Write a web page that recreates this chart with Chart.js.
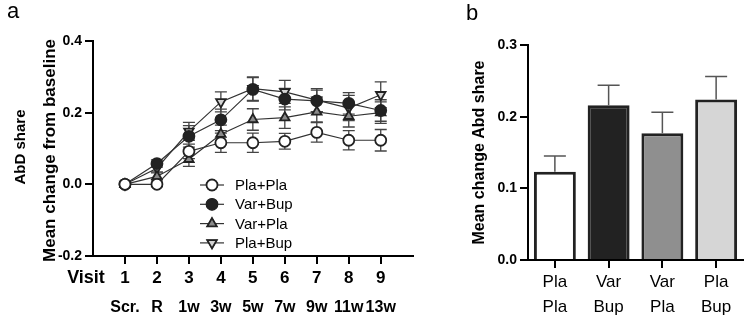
<!DOCTYPE html>
<html>
<head>
<meta charset="utf-8">
<script src="https://cdn.jsdelivr.net/npm/chart.js@4/dist/chart.umd.min.js"></script>
<style>
  body { margin: 0; background: #fff; }
  #wrap { position: relative; width: 747px; height: 318px; }
  #boxA { position: absolute; left: 0; top: 0; width: 420px; height: 318px; }
  #boxB { position: absolute; left: 420px; top: 0; width: 327px; height: 318px; }
</style>
</head>
<body>
<div id="wrap">
  <div id="boxA"><canvas id="lineChart"></canvas></div>
  <div id="boxB"><canvas id="barChart"></canvas></div>
</div>
<script>
// panel a: mean change from baseline per visit
const visits = [1, 2, 3, 4, 5, 6, 7, 8, 9];
const visitLabels = ['Scr.', 'R', '1w', '3w', '5w', '7w', '9w', '11w', '13w'];

const plaPla    = [0, 0,     0.092, 0.116, 0.116, 0.120, 0.145, 0.123, 0.123];
const plaPlaErr = [0, 0.006, 0.020, 0.027, 0.027, 0.022, 0.027, 0.027, 0.030];
const varBup    = [0, 0.058, 0.134, 0.180, 0.265, 0.238, 0.233, 0.226, 0.206];
const varBupErr = [0, 0.010, 0.030, 0.030, 0.033, 0.030, 0.030, 0.030, 0.030];
const varPla    = [0, 0.022, 0.070, 0.140, 0.181, 0.186, 0.202, 0.190, 0.200];
const varPlaErr = [0, 0.010, 0.020, 0.025, 0.030, 0.030, 0.028, 0.030, 0.030];
const plaBup    = [0, 0.045, 0.148, 0.230, 0.267, 0.258, 0.235, 0.213, 0.250];
const plaBupErr = [0, 0.010, 0.025, 0.028, 0.033, 0.032, 0.032, 0.035, 0.036];

// panel b: mean change Abd share
const groups = [['Pla', 'Pla'], ['Var', 'Bup'], ['Var', 'Pla'], ['Pla', 'Bup']];
const meanChange = [0.123, 0.216, 0.177, 0.224];
const meanErr = [0.022, 0.028, 0.029, 0.032];

const FONT = "'Liberation Sans', Arial, Helvetica, sans-serif";
Chart.defaults.font.family = FONT;
Chart.defaults.color = '#000';
Chart.defaults.animation = false;

function toPoints(vals) {
  return vals.map((v, i) => ({x: visits[i], y: v}));
}

// vertical error bars drawn under the markers
const lineErrorBars = {
  id: 'lineErrorBars',
  beforeDatasetsDraw(chart) {
    const ctx = chart.ctx;
    const xs = chart.scales.x, ys = chart.scales.y;
    ctx.save();
    ctx.strokeStyle = '#444';
    ctx.lineWidth = 1.3;
    chart.data.datasets.forEach(ds => {
      ds.data.forEach((p, i) => {
        const e = ds.errors[i];
        if (!e) return;
        const px = xs.getPixelForValue(p.x);
        const top = ys.getPixelForValue(p.y + e);
        const bot = ys.getPixelForValue(p.y - e);
        ctx.beginPath();
        ctx.moveTo(px, top); ctx.lineTo(px, bot);
        ctx.moveTo(px - 6, top); ctx.lineTo(px + 6, top);
        ctx.moveTo(px - 6, bot); ctx.lineTo(px + 6, bot);
        ctx.stroke();
      });
    });
    ctx.restore();
  }
};

// texts and legend for panel a
const panelAText = {
  id: 'panelAText',
  afterDraw(chart) {
    const ctx = chart.ctx;
    const area = chart.chartArea;
    ctx.save();
    ctx.fillStyle = '#000';
    ctx.textBaseline = 'middle';
    ctx.textAlign = 'left';
    ctx.font = '22px ' + FONT;
    ctx.fillText('a', 7, 12);

    ctx.textAlign = 'center';
    ctx.font = 'bold 18px ' + FONT;
    ctx.fillText('Visit', 86, area.bottom + 22);

    ctx.save();
    ctx.translate(50, (area.top + area.bottom) / 2 + 2);
    ctx.rotate(-Math.PI / 2);
    ctx.font = 'bold 17px ' + FONT;
    ctx.fillText('Mean change from baseline', 0, 0);
    ctx.restore();

    ctx.save();
    ctx.translate(21, 147);
    ctx.rotate(-Math.PI / 2);
    ctx.font = 'bold 15px ' + FONT;
    ctx.fillText('AbD share', 0, 0);
    ctx.restore();

    // legend inside the plot
    const lx = 212, ly = 185, gap = 19.3;
    chart.data.datasets.forEach((ds, i) => {
      const y = ly + i * gap;
      ctx.strokeStyle = '#333';
      ctx.lineWidth = 1.2;
      ctx.beginPath();
      ctx.moveTo(lx - 12, y); ctx.lineTo(lx + 12, y);
      ctx.stroke();
      Chart.helpers.drawPoint(ctx, {
        pointStyle: ds.pointStyle,
        radius: ds.pointRadius,
        rotation: ds.rotation || 0,
        borderWidth: ds.pointBorderWidth
      }, lx, y);
      ctx.fillStyle = ds.pointBackgroundColor;
      ctx.strokeStyle = ds.pointBorderColor;
      ctx.lineWidth = ds.pointBorderWidth;
      ctx.fill();
      ctx.stroke();
      ctx.fillStyle = '#000';
      ctx.textAlign = 'left';
      ctx.font = '15px ' + FONT;
      ctx.fillText(ds.label, 235, y + 1);
    });
    ctx.restore();
  }
};

function lineSet(label, vals, errs, style, fill, rot) {
  return {
    label: label,
    data: toPoints(vals),
    errors: errs,
    borderColor: '#333',
    borderWidth: 1.2,
    pointStyle: style,
    rotation: rot,
    pointRotation: rot,
    pointRadius: 5.5,
    pointBackgroundColor: fill,
    pointBorderColor: '#222',
    pointBorderWidth: 1.8,
    tension: 0
  };
}

const visitTicks = s => { s.ticks = visits.map(v => ({value: v})); };

new Chart(document.getElementById('lineChart'), {
  type: 'line',
  data: {
    datasets: [
      lineSet('Pla+Pla', plaPla, plaPlaErr, 'circle', '#ffffff', 0),
      lineSet('Var+Bup', varBup, varBupErr, 'circle', '#222222', 0),
      lineSet('Var+Pla', varPla, varPlaErr, 'triangle', '#8a8a8a', 0),
      lineSet('Pla+Bup', plaBup, plaBupErr, 'triangle', '#d4d4d4', 180)
    ]
  },
  options: {
    responsive: true,
    maintainAspectRatio: false,
    layout: { padding: { left: 0, right: 2, top: 41, bottom: 0 } },
    plugins: { legend: { display: false }, tooltip: { enabled: false } },
    scales: {
      x: {
        type: 'linear',
        position: 'bottom',
        weight: 0,
        min: 0,
        max: 10,
        afterBuildTicks: visitTicks,
        afterFit: s => { s.height = 31; },
        grid: { drawOnChartArea: false, tickLength: 8, color: '#000', lineWidth: 2 },
        border: { color: '#000', width: 2 },
        ticks: {
          autoSkip: false,
          maxRotation: 0,
          padding: 4,
          font: { size: 17, weight: 'bold' },
          callback: v => String(v)
        }
      },
      x2: {
        type: 'linear',
        position: 'bottom',
        weight: 1,
        min: 0,
        max: 10,
        afterBuildTicks: visitTicks,
        afterFit: s => { s.height = 31; },
        grid: { display: false },
        border: { display: false },
        ticks: {
          autoSkip: false,
          maxRotation: 0,
          padding: 3,
          font: { size: 16, weight: 'bold' },
          callback: v => visitLabels[visits.indexOf(v)]
        }
      },
      y: {
        min: -0.2,
        max: 0.4,
        afterBuildTicks: s => { s.ticks = [-0.2, 0, 0.2, 0.4].map(v => ({value: v})); },
        afterFit: s => { s.width = 93; },
        grid: { drawOnChartArea: false, tickLength: 8, color: '#000', lineWidth: 2 },
        border: { color: '#000', width: 2 },
        ticks: {
          padding: 3,
          font: { size: 14, weight: 'bold' },
          callback: v => v.toFixed(1)
        }
      }
    }
  },
  plugins: [lineErrorBars, panelAText]
});

// upward error bars on the bars
const barErrorBars = {
  id: 'barErrorBars',
  afterDatasetsDraw(chart) {
    const ctx = chart.ctx;
    const ys = chart.scales.y;
    const meta = chart.getDatasetMeta(0);
    ctx.save();
    ctx.strokeStyle = '#555';
    ctx.lineWidth = 1.5;
    meta.data.forEach((bar, i) => {
      const top = ys.getPixelForValue(meanChange[i] + meanErr[i]);
      const base = ys.getPixelForValue(meanChange[i]);
      ctx.beginPath();
      ctx.moveTo(bar.x, base); ctx.lineTo(bar.x, top);
      ctx.moveTo(bar.x - 11, top); ctx.lineTo(bar.x + 11, top);
      ctx.stroke();
    });
    ctx.restore();
  }
};

const panelBText = {
  id: 'panelBText',
  afterDraw(chart) {
    const ctx = chart.ctx;
    const area = chart.chartArea;
    ctx.save();
    ctx.fillStyle = '#000';
    ctx.textBaseline = 'middle';
    ctx.textAlign = 'left';
    ctx.font = '22px ' + FONT;
    ctx.fillText('b', 46, 14);
    ctx.translate(60, (area.top + area.bottom) / 2);
    ctx.rotate(-Math.PI / 2);
    ctx.textAlign = 'center';
    ctx.font = 'bold 16px ' + FONT;
    ctx.fillText('Mean change Abd share', 0, 0);
    ctx.restore();
  }
};

new Chart(document.getElementById('barChart'), {
  type: 'bar',
  data: {
    labels: groups,
    datasets: [{
      data: meanChange,
      backgroundColor: ['#ffffff', '#222222', '#8f8f8f', '#d6d6d6'],
      borderColor: '#222',
      borderWidth: 3,
      borderSkipped: 'bottom',
      barPercentage: 0.78,
      categoryPercentage: 1
    }]
  },
  options: {
    responsive: true,
    maintainAspectRatio: false,
    layout: { padding: { left: 0, right: 4, top: 45, bottom: 0 } },
    plugins: { legend: { display: false }, tooltip: { enabled: false } },
    scales: {
      x: {
        afterFit: s => { s.height = 58; },
        grid: { drawOnChartArea: false, offset: false, tickLength: 8, color: '#000', lineWidth: 2 },
        border: { color: '#000', width: 2 },
        ticks: { maxRotation: 0, padding: 2, font: { size: 17, lineHeight: 1.45 } }
      },
      y: {
        min: 0,
        max: 0.3,
        afterBuildTicks: s => { s.ticks = [0, 0.1, 0.2, 0.3].map(v => ({value: v})); },
        afterFit: s => { s.width = 108; },
        grid: { drawOnChartArea: false, tickLength: 8, color: '#000', lineWidth: 2 },
        border: { color: '#000', width: 2 },
        ticks: {
          padding: 3,
          font: { size: 14, weight: 'bold' },
          callback: v => v.toFixed(1)
        }
      }
    }
  },
  plugins: [barErrorBars, panelBText]
});
</script>
</body>
</html>
